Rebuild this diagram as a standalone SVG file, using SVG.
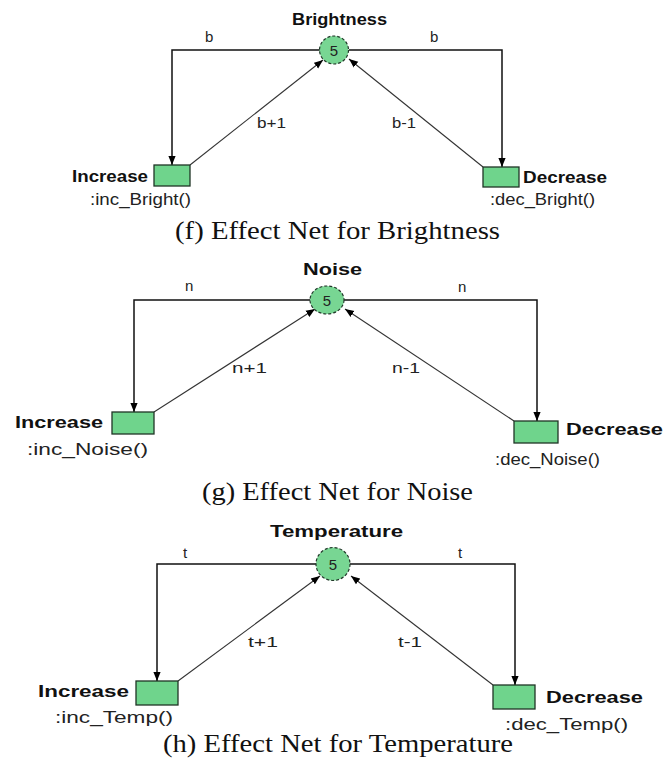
<svg xmlns="http://www.w3.org/2000/svg" width="664" height="776" viewBox="0 0 664 776">
  <style>
    .place { fill: #78d693; stroke: #22382a; stroke-width: 1.2; stroke-dasharray: 3 2; }
    .trans { fill: #6fd48c; stroke: #1f3526; stroke-width: 1.3; }
    .arc { fill: none; stroke: #111; stroke-width: 1.5; }
    .diag { fill: none; stroke: #333; stroke-width: 1.1; }
    .name { font-family: "Liberation Sans", Arial, sans-serif; font-weight: bold; font-size: 16px; fill: #111; }
    .act { font-family: "Liberation Sans", Arial, sans-serif; font-size: 16px; fill: #222; }
    .lbl { font-family: "Liberation Sans", Arial, sans-serif; font-size: 15px; fill: #222; }
    .tok { font-family: "Liberation Sans", Arial, sans-serif; font-size: 15px; fill: #222; text-anchor: middle; }
    .cap { font-family: "Liberation Serif", "Times New Roman", serif; font-size: 26px; fill: #111; }
  </style>
  <defs>
    <marker id="arr" viewBox="0 0 10 10" refX="10" refY="5" markerWidth="9" markerHeight="9" markerUnits="userSpaceOnUse" orient="auto">
      <path d="M0,1 L10,5 L0,9 z" fill="#000"/>
    </marker>
  </defs>
  <rect width="664" height="776" fill="#fff"/>

  <!-- connectors -->
  <g id="connectors">
    <!-- brightness net -->
    <polyline class="arc" points="320,50 172,50 172,165" marker-end="url(#arr)"/>
    <polyline class="arc" points="349,50 502,50 502,167" marker-end="url(#arr)"/>
    <line class="diag" x1="190" y1="165" x2="323" y2="60" marker-end="url(#arr)"/>
    <line class="diag" x1="483" y1="167" x2="349" y2="59" marker-end="url(#arr)"/>
    <!-- noise net -->
    <polyline class="arc" points="310,300 134,300 134,412" marker-end="url(#arr)"/>
    <polyline class="arc" points="344,300 537,300 537,421" marker-end="url(#arr)"/>
    <line class="diag" x1="154" y1="412" x2="315" y2="309" marker-end="url(#arr)"/>
    <line class="diag" x1="514" y1="421" x2="345" y2="309" marker-end="url(#arr)"/>
    <!-- temperature net -->
    <polyline class="arc" points="316,564 157,564 157,681" marker-end="url(#arr)"/>
    <polyline class="arc" points="350,564 515,564 515,685" marker-end="url(#arr)"/>
    <line class="diag" x1="178" y1="681" x2="320" y2="576" marker-end="url(#arr)"/>
    <line class="diag" x1="493" y1="685" x2="351" y2="576" marker-end="url(#arr)"/>
  </g>

  <!-- arc labels -->
  <g id="arc-labels">
    <text class="lbl" x="205" y="42">b</text>
    <text class="lbl" x="430" y="42">b</text>
    <text class="lbl" x="257" y="128" textLength="29" lengthAdjust="spacingAndGlyphs">b+1</text>
    <text class="lbl" x="392" y="128" textLength="24" lengthAdjust="spacingAndGlyphs">b-1</text>

    <text class="lbl" x="185" y="291">n</text>
    <text class="lbl" x="458" y="292">n</text>
    <text class="lbl" x="232" y="373" textLength="35" lengthAdjust="spacingAndGlyphs">n+1</text>
    <text class="lbl" x="392" y="373" textLength="28" lengthAdjust="spacingAndGlyphs">n-1</text>

    <text class="lbl" x="183" y="558">t</text>
    <text class="lbl" x="458" y="558">t</text>
    <text class="lbl" x="248" y="647" textLength="30" lengthAdjust="spacingAndGlyphs">t+1</text>
    <text class="lbl" x="398" y="647" textLength="24" lengthAdjust="spacingAndGlyphs">t-1</text>
  </g>

  <!-- (f) brightness -->
  <g id="brightness">
    <text class="name" x="292" y="25" textLength="95" lengthAdjust="spacingAndGlyphs">Brightness</text>
    <ellipse class="place" cx="334" cy="50" rx="14.5" ry="14"/>
    <text class="tok" x="334" y="55.5">5</text>
  </g>
  <g id="inc-bright">
    <rect class="trans" x="154" y="165" width="36" height="21"/>
    <text class="name" x="72" y="182" textLength="76" lengthAdjust="spacingAndGlyphs">Increase</text>
    <text class="act" x="90" y="205" textLength="101" lengthAdjust="spacingAndGlyphs">:inc_Bright()</text>
  </g>
  <g id="dec-bright">
    <rect class="trans" x="483" y="167" width="36" height="20"/>
    <text class="name" x="523" y="183" textLength="84" lengthAdjust="spacingAndGlyphs">Decrease</text>
    <text class="act" x="490" y="205" textLength="105" lengthAdjust="spacingAndGlyphs">:dec_Bright()</text>
  </g>
  <text class="cap" x="175" y="239" textLength="325" lengthAdjust="spacingAndGlyphs">(f) Effect Net for Brightness</text>

  <!-- (g) noise -->
  <g id="noise">
    <text class="name" x="303" y="275" textLength="59" lengthAdjust="spacingAndGlyphs">Noise</text>
    <ellipse class="place" cx="327" cy="300" rx="17" ry="14"/>
    <text class="tok" x="327" y="305.5">5</text>
  </g>
  <g id="inc-noise">
    <rect class="trans" x="112" y="412" width="42" height="22"/>
    <text class="name" x="15" y="428" textLength="88" lengthAdjust="spacingAndGlyphs">Increase</text>
    <text class="act" x="27" y="455" textLength="121" lengthAdjust="spacingAndGlyphs">:inc_Noise()</text>
  </g>
  <g id="dec-noise">
    <rect class="trans" x="514" y="421" width="44" height="22"/>
    <text class="name" x="566" y="435" textLength="97" lengthAdjust="spacingAndGlyphs">Decrease</text>
    <text class="act" x="495" y="465" textLength="105" lengthAdjust="spacingAndGlyphs">:dec_Noise()</text>
  </g>
  <text class="cap" x="202" y="500" textLength="271" lengthAdjust="spacingAndGlyphs">(g) Effect Net for Noise</text>

  <!-- (h) temperature -->
  <g id="temperature">
    <text class="name" x="270" y="537" textLength="133" lengthAdjust="spacingAndGlyphs">Temperature</text>
    <ellipse class="place" cx="333" cy="564" rx="17" ry="16.5"/>
    <text class="tok" x="333" y="569.5">5</text>
  </g>
  <g id="inc-temp">
    <rect class="trans" x="136" y="681" width="42" height="24"/>
    <text class="name" x="38" y="697" textLength="91" lengthAdjust="spacingAndGlyphs">Increase</text>
    <text class="act" x="55" y="723" textLength="118" lengthAdjust="spacingAndGlyphs">:inc_Temp()</text>
  </g>
  <g id="dec-temp">
    <rect class="trans" x="493" y="685" width="42" height="24"/>
    <text class="name" x="546" y="703" textLength="97" lengthAdjust="spacingAndGlyphs">Decrease</text>
    <text class="act" x="505" y="730" textLength="123" lengthAdjust="spacingAndGlyphs">:dec_Temp()</text>
  </g>
  <text class="cap" x="163" y="752" textLength="350" lengthAdjust="spacingAndGlyphs">(h) Effect Net for Temperature</text>
</svg>
